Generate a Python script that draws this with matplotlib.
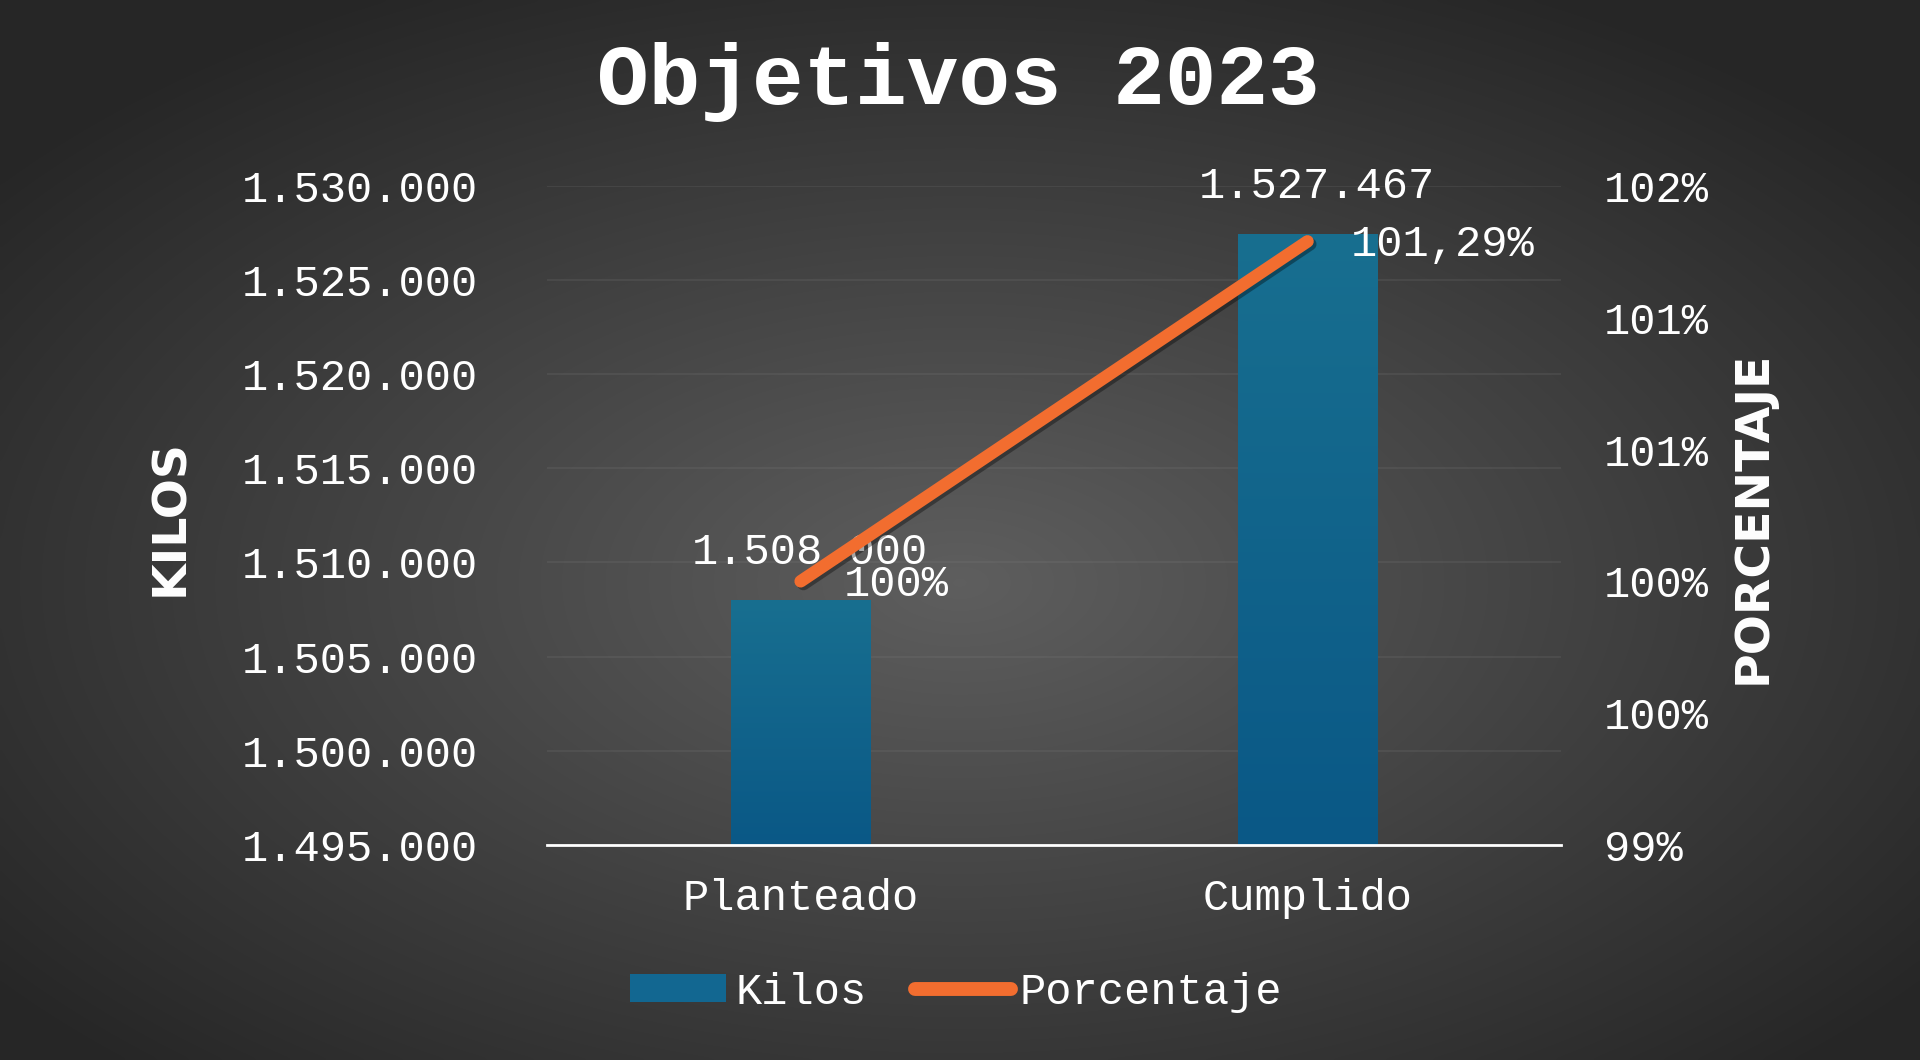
import math

import matplotlib

matplotlib.use("Agg")
import matplotlib.patheffects as pe
import matplotlib.pyplot as plt
import numpy as np
from matplotlib.lines import Line2D
from matplotlib.patches import Patch
from matplotlib.ticker import FixedLocator, FuncFormatter

# data
categories = ["Planteado", "Cumplido"]
kilos = [1508000, 1527467]
porcentaje = [100.0, 101.29]
kilos_labels = ["1.508.000", "1.527.467"]
pct_labels = ["100%", "101,29%"]
kilos_ticks = [1495000, 1500000, 1505000, 1510000, 1515000, 1520000, 1525000, 1530000]
pct_ticks = [99.0, 99.5, 100.0, 100.5, 101.0, 101.5]

MONO = "Liberation Mono"
FS = 31.5
BAR_TOP = "#186f90"
BAR_BOT = "#0a5886"
ORANGE = "#f26d2f"

fig = plt.figure(figsize=(19.2, 10.6), dpi=100)

# radial dark background
bg = fig.add_axes([0, 0, 1, 1], zorder=-10)
yy, xx = np.mgrid[0:1:300j, 0:1:540j]
r = np.sqrt(((xx - 0.5) / 0.75) ** 2 + ((yy - 0.45) / 0.75) ** 2)
shade = np.clip(0.37 - 0.26 * r, 0.15, 0.4)
bg.imshow(np.dstack([shade, shade, shade]), extent=(0, 1, 0, 1), aspect="auto",
          origin="lower", interpolation="bicubic")
bg.set_axis_off()

ax = fig.add_axes([0.285, 0.203, 0.528, 0.6215])
ax.set_facecolor("none")
x = np.arange(len(categories))
bars = ax.bar(x, kilos, width=0.275, color=BAR_BOT, zorder=2)

# vertical gradient inside each bar
grad = np.linspace(0, 1, 256).reshape(-1, 1)
cmap = matplotlib.colors.LinearSegmentedColormap.from_list("bar", [BAR_BOT, BAR_TOP])
for b in bars:
    x0, y0 = b.get_x(), 1495000
    x1, y1 = x0 + b.get_width(), b.get_y() + b.get_height()
    im = ax.imshow(grad, extent=(x0, x1, y0, y1), aspect="auto", origin="lower",
                   cmap=cmap, zorder=3)
    im.set_clip_path(b)

ax.set_xlim(-0.5, 1.5)
ax.set_ylim(1495000, 1530000)
ax.yaxis.set_major_locator(FixedLocator(kilos_ticks))
ax.yaxis.set_major_formatter(FuncFormatter(lambda v, p: f"{v:,.0f}".replace(",", ".")))
ax.set_xticks(x)
ax.set_xticklabels(categories)
ax.grid(axis="y", color="#8a8a8a", alpha=0.18, lw=1.2, zorder=0)
ax.set_axisbelow(True)
for s in ["top", "left", "right"]:
    ax.spines[s].set_visible(False)
ax.spines["bottom"].set_color("white")
ax.spines["bottom"].set_linewidth(2)
ax.spines["bottom"].set_zorder(5)
ax.tick_params(axis="y", length=0, pad=50, labelsize=FS, labelcolor="white")
ax.tick_params(axis="x", length=0, pad=24, labelsize=FS, labelcolor="white")
for t in ax.get_xticklabels() + ax.get_yticklabels():
    t.set_family(MONO)

for xi, v, lab in zip(x, kilos, kilos_labels):
    ax.annotate(lab, (xi, v), xytext=(7, 34), textcoords="offset points",
                ha="center", va="center", fontsize=FS, color="white",
                family=MONO, zorder=6)

ax2 = ax.twinx()
ax2.set_facecolor("none")
ax2.plot(x, porcentaje, color=ORANGE, lw=9, solid_capstyle="round", zorder=4,
         path_effects=[pe.SimpleLineShadow(offset=(2, -2), alpha=0.35), pe.Normal()])
ax2.set_ylim(99.0, 101.5)
ax2.yaxis.set_major_locator(FixedLocator(pct_ticks))
ax2.yaxis.set_major_formatter(FuncFormatter(lambda v, p: f"{math.floor(v + 0.5 + 1e-9)}%"))
for s in ax2.spines.values():
    s.set_visible(False)
ax2.tick_params(axis="y", length=0, pad=31, labelsize=FS, labelcolor="white")
for t in ax2.get_yticklabels():
    t.set_family(MONO)
for xi, v, lab in zip(x, porcentaje, pct_labels):
    ax2.annotate(lab, (xi, v), xytext=(31, -2), textcoords="offset points",
                 ha="left", va="center", fontsize=FS, color="white",
                 family=MONO, zorder=6)

fig.text(0.499, 0.923, "Objetivos 2023", ha="center", va="center", fontsize=62,
         fontweight="bold", color="white", family=MONO)
fig.text(0.089, 0.512, "KILOS", rotation=90, ha="center", va="center", fontsize=34,
         fontweight="bold", color="white", family="DejaVu Sans")
fig.text(0.913, 0.512, "PORCENTAJE", rotation=90, ha="center", va="center", fontsize=34,
         fontweight="bold", color="white", family="DejaVu Sans")

handles = [Patch(facecolor="#126791", edgecolor="none"),
           Line2D([0], [0], color=ORANGE, lw=10, solid_capstyle="round")]
leg = fig.legend(handles, ["Kilos", "Porcentaje"], loc="center", bbox_to_anchor=(0.498, 0.064),
                 ncol=2, frameon=False, handlelength=2.2, handleheight=0.6,
                 handletextpad=0.2, columnspacing=1.1,
                 prop={"family": MONO, "size": FS})
for t in leg.get_texts():
    t.set_color("white")

fig.savefig("out.png", dpi=100)
